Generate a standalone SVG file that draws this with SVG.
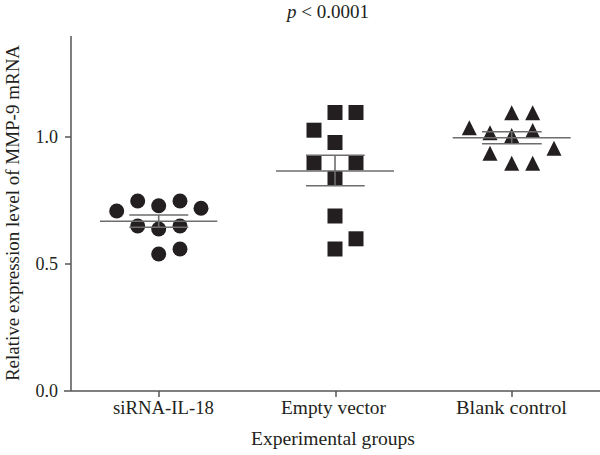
<svg xmlns="http://www.w3.org/2000/svg" xmlns:xlink="http://www.w3.org/1999/xlink" width="600" height="455" viewBox="0 0 600 455">
<style>
text{font-family:"Liberation Serif","Times New Roman",serif;fill:#231f20;}
.lbl{font-size:19px;}
.tick{font-size:18px;}
.ax{stroke:#555;stroke-width:1.5;fill:none;}
.bar{stroke:#6d6d6d;stroke-width:1.6;fill:none;}
.sym{fill:#231f20;}
</style>
<defs>
<circle id="c" r="7.5" class="sym"/>
<rect id="s" x="-7.5" y="-7.5" width="15" height="15" class="sym"/>
<path id="t" d="M0,-7.5 L7.5,7.5 L-7.5,7.5 Z" class="sym"/>
</defs>
<rect width="600" height="455" fill="#fff"/>
<text x="328" y="18" class="lbl" text-anchor="middle"><tspan font-style="italic">p</tspan> &lt; 0.0001</text>
<g id="axes">
<path class="ax" d="M71,36 V391 M64,391 H600 M65,137 H71 M65,264 H71 M159,391 V397 M336,391 V397 M512,391 V397"/>
<text x="58" y="143" class="tick" text-anchor="end">1.0</text>
<text x="58" y="270" class="tick" text-anchor="end">0.5</text>
<text x="58" y="397" class="tick" text-anchor="end">0.0</text>
<text class="lbl" text-anchor="middle" transform="translate(19,213) rotate(-90)">Relative expression level of MMP-9 mRNA</text>
<text x="113" y="414" class="lbl" textLength="101" lengthAdjust="spacingAndGlyphs">siRNA-IL-18</text>
<text x="281" y="414" class="lbl" textLength="105" lengthAdjust="spacingAndGlyphs">Empty vector</text>
<text x="456" y="414" class="lbl" textLength="111" lengthAdjust="spacingAndGlyphs">Blank control</text>
<text x="251" y="445" class="lbl" textLength="164" lengthAdjust="spacingAndGlyphs">Experimental groups</text>
</g>
<g id="siRNA">
<use xlink:href="#c" x="116.7" y="211"/>
<use xlink:href="#c" x="137.7" y="201"/>
<use xlink:href="#c" x="158.7" y="205.7"/>
<use xlink:href="#c" x="180" y="201"/>
<use xlink:href="#c" x="201" y="208.3"/>
<use xlink:href="#c" x="137.7" y="226"/>
<use xlink:href="#c" x="158.7" y="229"/>
<use xlink:href="#c" x="180" y="226"/>
<use xlink:href="#c" x="158.7" y="254"/>
<use xlink:href="#c" x="180" y="249"/>
<path class="bar" d="M100,221.3 H217.3 M129.3,215 H188.3 M129.3,227.3 H188.3 M158.7,215 V227.3"/>
</g>
<g id="empty">
<use xlink:href="#s" x="335" y="112.5"/>
<use xlink:href="#s" x="356" y="112.5"/>
<use xlink:href="#s" x="314" y="130.2"/>
<use xlink:href="#s" x="335" y="142.5"/>
<use xlink:href="#s" x="314" y="162.8"/>
<use xlink:href="#s" x="356" y="162.8"/>
<use xlink:href="#s" x="335" y="178.5"/>
<use xlink:href="#s" x="335" y="216"/>
<use xlink:href="#s" x="356" y="238.8"/>
<use xlink:href="#s" x="335" y="249"/>
<path class="bar" d="M276,171 H394 M306,155.3 H364.7 M306,185.7 H364.7 M335,155.3 V185.7"/>
</g>
<g id="blank">
<use xlink:href="#t" x="511.7" y="112.8"/>
<use xlink:href="#t" x="532.7" y="112.8"/>
<use xlink:href="#t" x="469.3" y="127.8"/>
<use xlink:href="#t" x="490" y="132.8"/>
<use xlink:href="#t" x="511.7" y="135.5"/>
<use xlink:href="#t" x="532.7" y="130.5"/>
<use xlink:href="#t" x="554" y="148.3"/>
<use xlink:href="#t" x="490" y="153.3"/>
<use xlink:href="#t" x="511.7" y="163.3"/>
<use xlink:href="#t" x="532.7" y="163.3"/>
<path class="bar" d="M452.7,137.7 H570.7 M482,131.7 H541.7 M482,143.7 H541.7 M511.7,131.7 V143.7"/>
</g>
</svg>
